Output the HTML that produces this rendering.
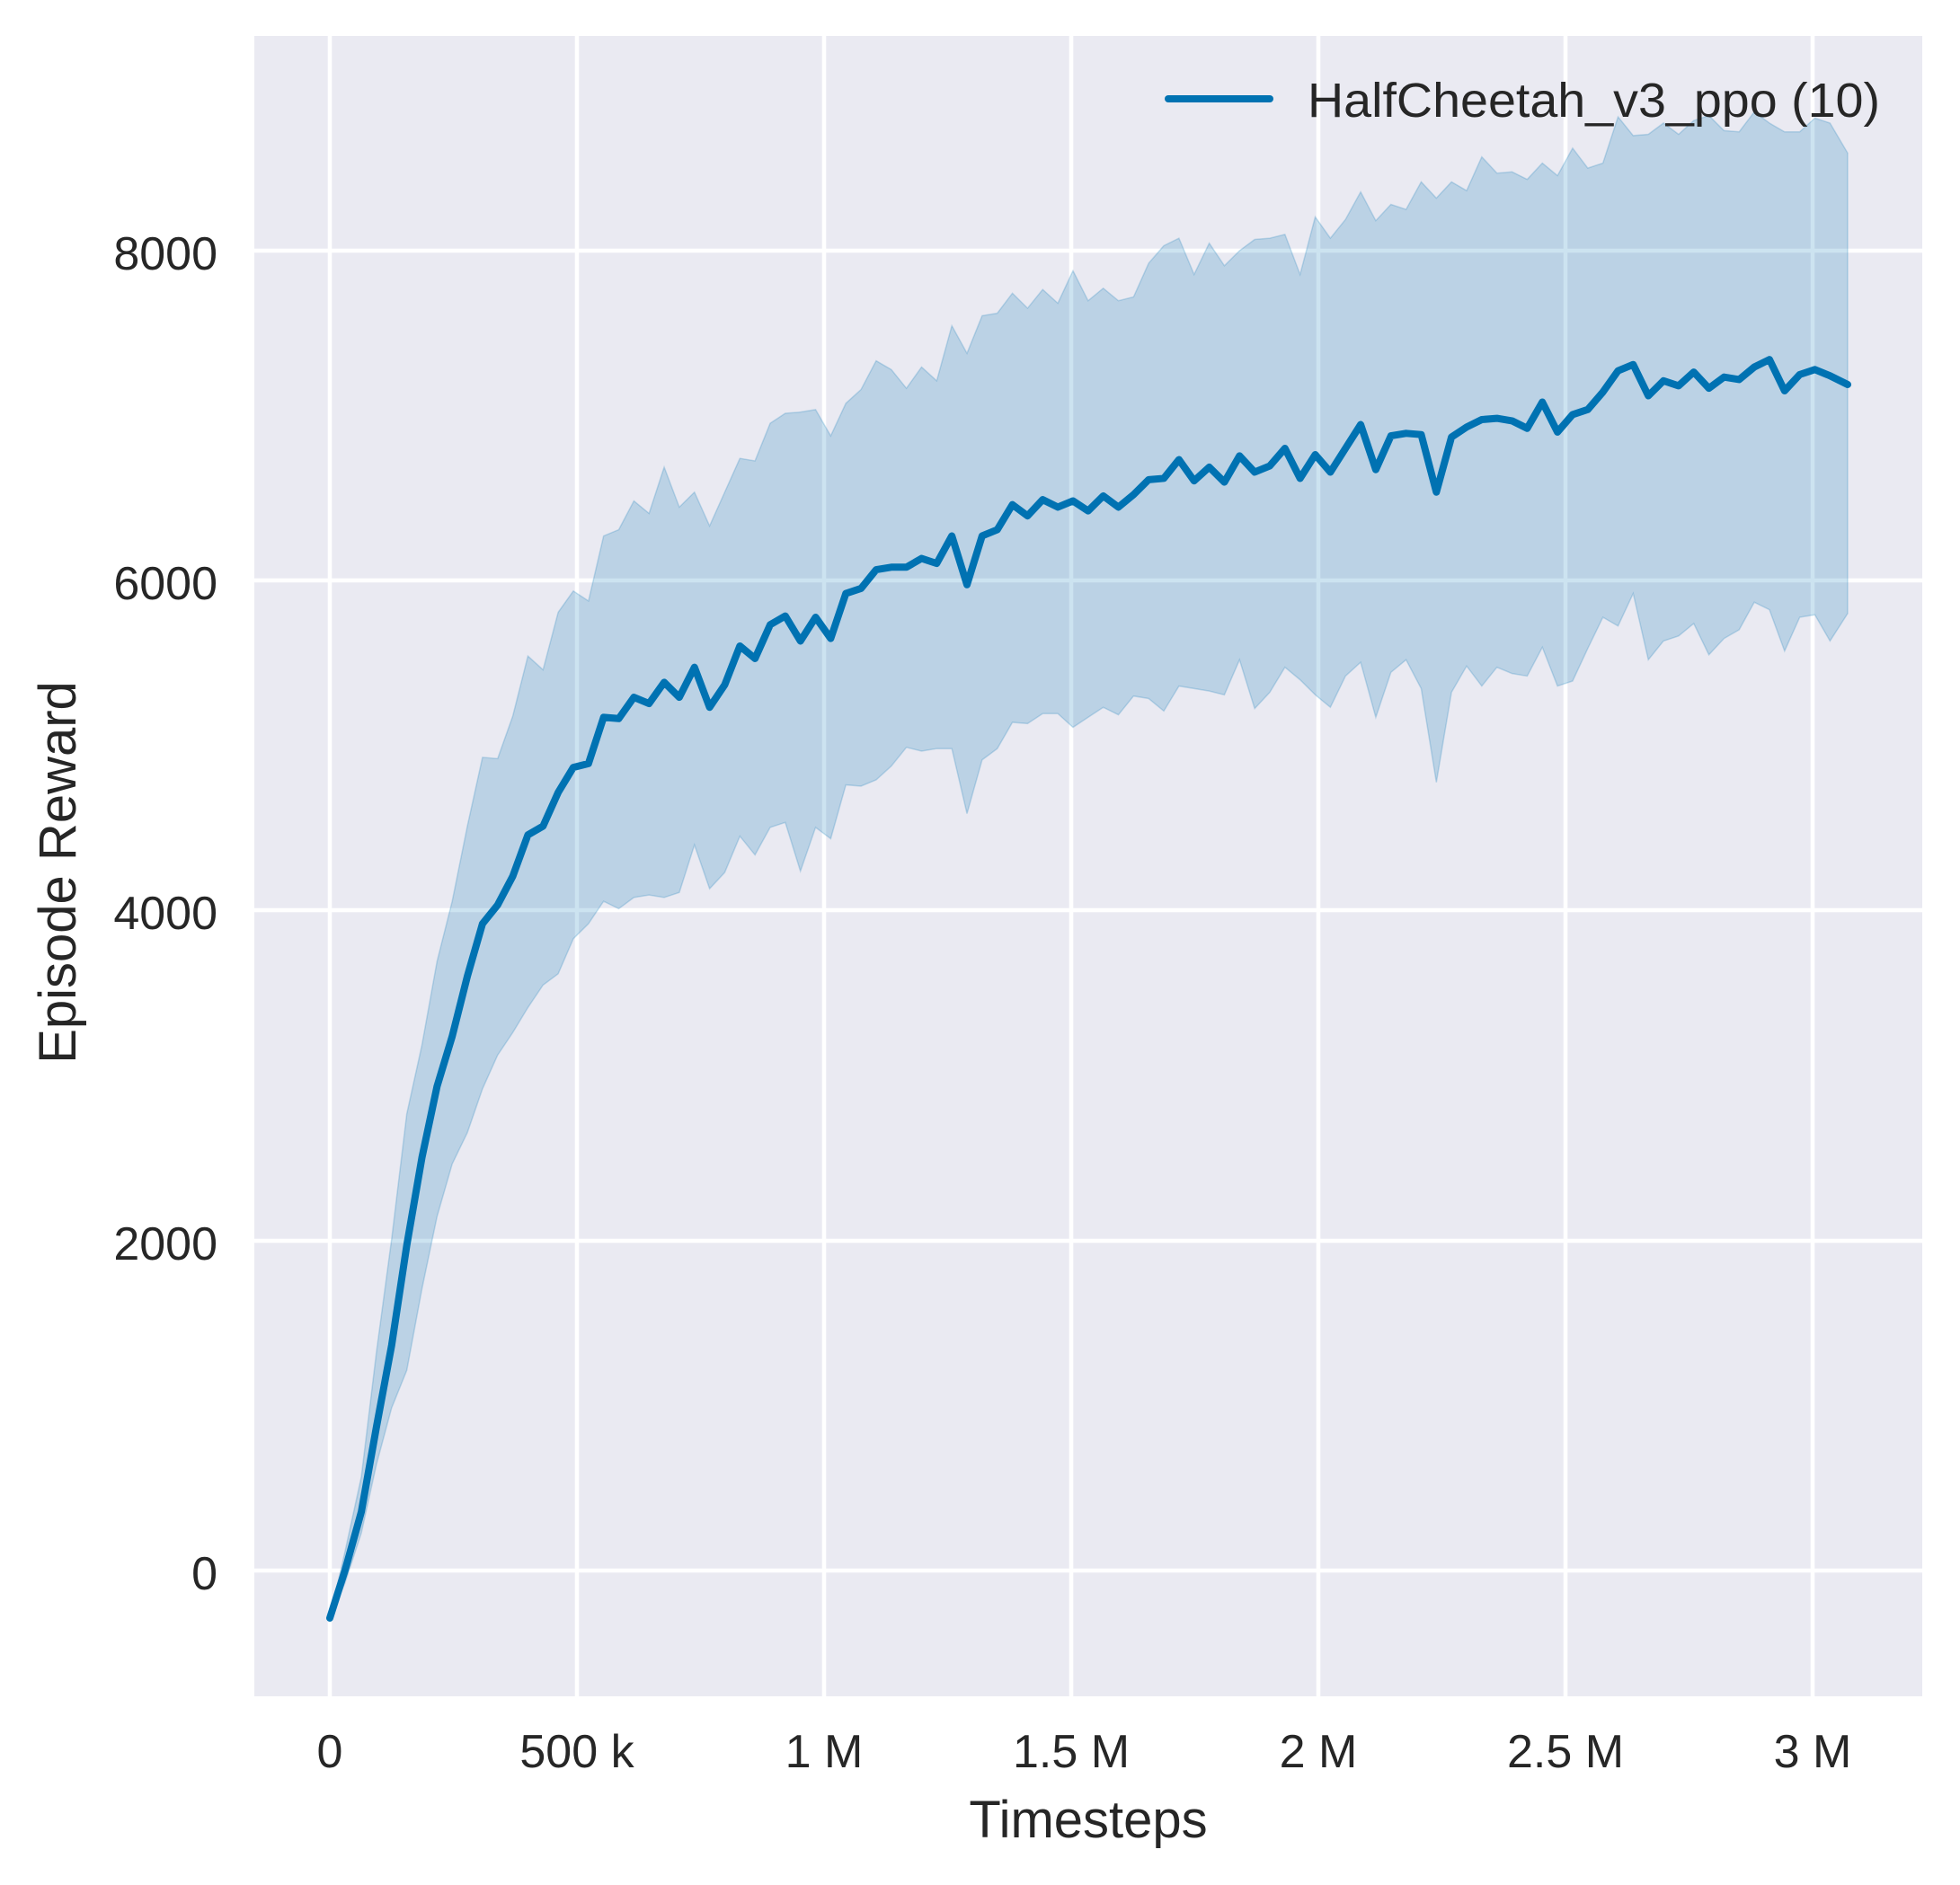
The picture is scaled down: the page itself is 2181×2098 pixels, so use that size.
<!DOCTYPE html>
<html><head><meta charset="utf-8"><style>html,body{margin:0;padding:0;background:#fff}svg{display:block}text{font-family:"Liberation Sans",Arial,sans-serif;fill:#262626}</style></head>
<body>
<svg width="2181" height="2098" viewBox="0 0 2181 2098" xmlns="http://www.w3.org/2000/svg">
<rect x="0" y="0" width="2181" height="2098" fill="#fff"/>
<rect x="283" y="40" width="1856" height="1848" fill="#EAEAF2"/>
<g stroke="#fff" stroke-width="4.5">
<line x1="367" y1="40" x2="367" y2="1888"/><line x1="642" y1="40" x2="642" y2="1888"/><line x1="917" y1="40" x2="917" y2="1888"/><line x1="1192" y1="40" x2="1192" y2="1888"/><line x1="1467" y1="40" x2="1467" y2="1888"/><line x1="1742" y1="40" x2="1742" y2="1888"/><line x1="2017" y1="40" x2="2017" y2="1888"/>
<line x1="283" y1="1748" x2="2139" y2="1748"/><line x1="283" y1="1381" x2="2139" y2="1381"/><line x1="283" y1="1013" x2="2139" y2="1013"/><line x1="283" y1="646" x2="2139" y2="646"/><line x1="283" y1="279" x2="2139" y2="279"/>
</g>
<g transform="translate(367,1748) scale(1.404,1.3924) translate(-263,-1255)">
<polygon fill="#0072B2" fill-opacity="0.2" stroke="#0072B2" stroke-opacity="0.2" stroke-width="1.5" vector-effect="non-scaling-stroke" points="263,1293 275,1240 288,1180 300,1080 312,990 324,890 336,835 348,768 360,720 372,660 384,605 396,606 408,572 420,524 432,535 444,489 456,472 468,480 480,428 492,423 504,400 516,410 528,373 540,405 552,393 564,420 576,393 588,366 600,368 612,338 624,330 636,329 648,327 660,348 672,322 684,311 696,288 708,295 720,310 732,293 744,304 756,260 768,282 780,252 792,250 804,234 816,246 828,231 840,242 852,216 864,240 876,230 888,240 900,237 912,210 924,196 936,190 948,219 960,194 972,212 984,200 996,191 1008,190 1020,187 1032,219 1044,173 1056,190 1068,175 1080,153 1092,176 1104,163 1116,167 1128,145 1140,158 1152,145 1164,152 1176,125 1188,138 1200,137 1212,143 1224,130 1236,140 1248,118 1260,134 1272,130 1284,93 1296,108 1308,107 1320,98 1332,107 1344,96 1356,92 1368,104 1380,105 1392,89 1404,98 1416,105 1428,105 1440,94 1452,98 1466,122 1466,490 1452,512 1440,491 1428,493 1416,520 1404,487 1392,481 1380,503 1368,510 1356,523 1344,498 1332,508 1320,512 1308,527 1296,474 1284,500 1272,493 1260,518 1248,544 1236,548 1224,517 1212,540 1200,538 1188,533 1176,548 1164,532 1152,553 1140,625 1128,550 1116,527 1104,537 1092,573 1080,529 1068,540 1056,565 1044,555 1032,543 1020,533 1008,553 996,566 984,527 972,555 960,552 948,550 936,548 924,568 912,558 900,556 888,571 876,565 864,573 852,581 840,570 828,570 816,578 804,577 792,598 780,607 768,650 756,598 744,598 732,600 720,597 708,612 696,623 684,628 672,627 660,670 648,661 636,696 624,657 612,661 600,683 588,668 576,697 564,710 552,675 540,713 528,717 516,715 504,717 492,726 480,720 468,738 456,750 444,778 432,787 420,805 408,825 396,843 384,870 372,905 360,930 348,972 336,1030 324,1095 312,1125 300,1170 288,1225 275,1265"/>
<polyline fill="none" stroke="#0072B2" stroke-width="8" stroke-linejoin="round" stroke-linecap="round" vector-effect="non-scaling-stroke" points="263,1293 275,1255 288,1208 300,1140 312,1075 324,995 336,925 348,868 360,828 372,780 384,738 396,723 408,700 420,667 432,660 444,633 456,613 468,610 480,573 492,574 504,557 516,562 528,545 540,557 552,533 564,565 576,547 588,516 600,526 612,499 624,492 636,512 648,493 660,510 672,474 684,470 696,455 708,453 720,453 732,446 744,450 756,428 768,467 780,428 792,423 804,403 816,412 828,399 840,405 852,400 864,408 876,396 888,405 900,395 912,383 924,382 936,367 948,384 960,373 972,385 984,364 996,377 1008,372 1020,358 1032,382 1044,363 1056,377 1068,358 1080,339 1092,375 1104,348 1116,346 1128,347 1140,393 1152,349 1164,341 1176,335 1188,334 1200,336 1212,342 1224,321 1236,345 1248,331 1260,327 1272,313 1284,296 1296,291 1308,316 1320,304 1332,308 1344,297 1356,310 1368,301 1380,303 1392,293 1404,287 1416,312 1428,299 1440,295 1452,300 1466,307"/>
</g>
<line x1="1300" y1="110" x2="1413" y2="110" stroke="#0072B2" stroke-width="8" stroke-linecap="round"/>
<text x="1455" y="130" font-size="54" textLength="637" lengthAdjust="spacingAndGlyphs">HalfCheetah_v3_ppo (10)</text>
<g font-size="52" text-anchor="end">
<text x="242" y="300">8000</text><text x="242" y="667">6000</text><text x="242" y="1034">4000</text><text x="242" y="1402">2000</text><text x="242" y="1769">0</text>
</g>
<g font-size="52" text-anchor="middle">
<text x="367" y="1967">0</text><text x="642" y="1967">500 k</text><text x="917" y="1967">1 M</text><text x="1192" y="1967">1.5 M</text><text x="1467" y="1967">2 M</text><text x="1742" y="1967">2.5 M</text><text x="2017" y="1967">3 M</text>
</g>
<text x="1211" y="2045" font-size="58" text-anchor="middle">Timesteps</text>
<text transform="translate(84,971) rotate(-90)" font-size="58" text-anchor="middle">Episode Reward</text>
</svg>
</body></html>
